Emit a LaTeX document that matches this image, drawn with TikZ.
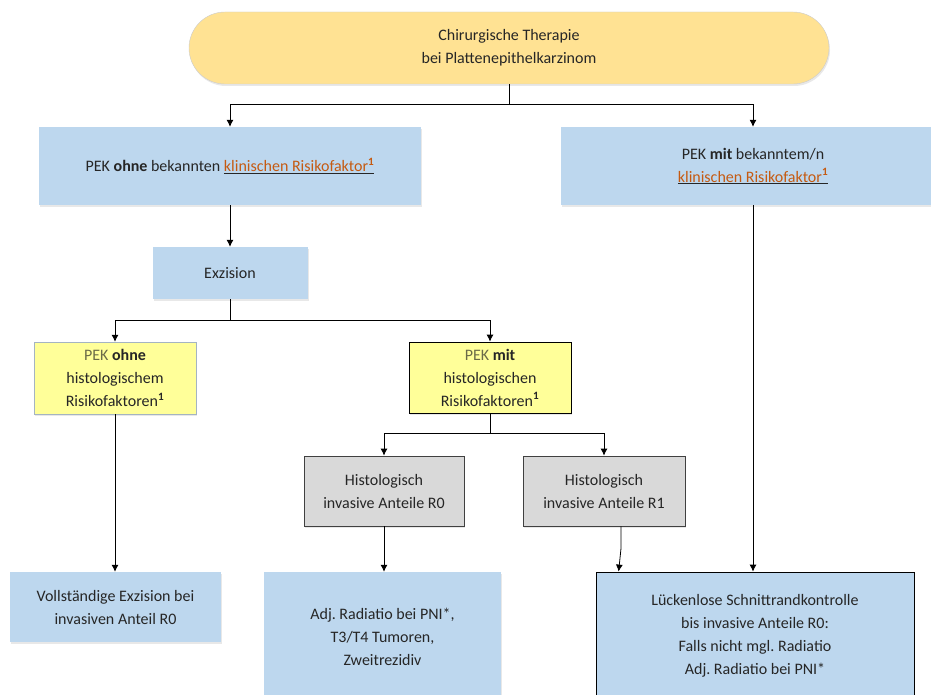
\documentclass[tikz,border=0pt]{standalone}
\usepackage{fontspec}
\setmainfont{Carlito}
\usetikzlibrary{arrows.meta,shapes,positioning,shadows}
\frenchspacing

\definecolor{gold}{HTML}{FFE293}
\definecolor{blau}{HTML}{BDD7EE}
\definecolor{gelb}{HTML}{FFFF99}
\definecolor{grau}{HTML}{D9D9D9}
\definecolor{link}{HTML}{C55A11}
\definecolor{schrift}{HTML}{262626}
\definecolor{pekfarbe}{HTML}{6B6B48}

\newcommand{\risiko}{\underline{\textcolor{link}{klinischen Risikofaktor\textsuperscript{\textbf{1}}}}}

\tikzset{
  kasten/.style={rectangle, inner sep=0pt, align=center, text=schrift,
    font=\fontsize{16}{23}\selectfont,
    drop shadow={shadow xshift=1pt, shadow yshift=-2pt, opacity=0.18}},
  blaukasten/.style={kasten, fill=blau},
  gelbkasten/.style={kasten, fill=gelb},
  graukasten/.style={kasten, fill=grau, draw=black!75, line width=0.8pt},
  pfeil/.style={-{Latex[length=7pt,width=7pt]}, line width=0.8pt}
}

\begin{document}
\begin{tikzpicture}[x=1pt,y=-1pt]
				\useasboundingbox (0,0) rectangle (931,695);
				% oberste Ebene
				\node (therapie) at (509,48) [kasten, fill=gold, draw=black!20, rounded corners=36pt, minimum width=640pt, minimum height=72pt] {Chirurgische Therapie\\bei Plattenepithelkarzinom};
				\node (pekohne) at (230,166) [blaukasten, minimum width=382pt, minimum height=78pt] {PEK \textbf{ohne} bekannten \risiko};
				\node (pekmit) at (753,166) [blaukasten, minimum width=384pt, minimum height=78pt] {PEK \textbf{mit} bekanntem/n\\\risiko};
				\node (exzision) at (230,273) [blaukasten, minimum width=155pt, minimum height=52pt] {Exzision};
				
				% histologische Risikofaktoren
				\node (histohne) at (115,378) [gelbkasten, draw=blau!60!gray, minimum width=162pt, minimum height=72pt] {\textcolor{pekfarbe}{PEK} \textbf{ohne}\\histologischem\\Risikofaktoren\textsuperscript{\textbf{1}}};
				\node (histmit) at (490,377.5) [gelbkasten, draw=black, line width=0.8pt, minimum width=162pt, minimum height=71pt] {\textcolor{pekfarbe}{PEK} \textbf{mit}\\histologischen\\Risikofaktoren\textsuperscript{\textbf{1}}};
				\node (rnull) at (384,491) [graukasten, minimum width=160pt, minimum height=70pt] {Histologisch\\invasive Anteile R0};
				\node (reins) at (604,491) [graukasten, minimum width=162pt, minimum height=70pt] {Histologisch\\invasive Anteile R1};
				
				% Ergebnisse
				\node (vollst) at (115.5,607) [blaukasten, minimum width=211pt, minimum height=70pt] {Vollständige Exzision bei\\invasiven Anteil R0};
				\node (adj) at (382.5,637) [blaukasten, minimum width=237pt, minimum height=130pt] {Adj. Radiatio bei PNI*,\\T3/T4 Tumoren,\\Zweitrezidiv};
				\node (lueck) at (755,636) [blaukasten, draw=black, line width=0.8pt, minimum width=318pt, minimum height=128pt] {Lückenlose Schnittrandkontrolle\\bis invasive Anteile R0:\\Falls nicht mgl. Radiatio\\Adj. Radiatio bei PNI*};
				
				\draw [pfeil] (therapie.south) -- ++(0,20) -| (pekohne.north);
				\draw [pfeil] (therapie.south) -- ++(0,20) -| (pekmit.north);
				\draw [pfeil] (pekohne.south) -- (pekohne.south |- exzision.north);
				\draw [pfeil] (exzision.south) -- ++(0,21) -| (histohne.north);
				\draw [pfeil] (exzision.south) -- ++(0,21) -| (histmit.north);
				\draw [pfeil] (histmit.south) -- ++(0,20) -| (rnull.north);
				\draw [pfeil] (histmit.south) -- ++(0,20) -| (reins.north);
				\draw [pfeil] (histohne.south) -- (histohne.south |- vollst.north);
				\draw [pfeil] (rnull.south) -- (rnull.south |- adj.north);
				\draw [pfeil] ([xshift=17pt]reins.south) -- ++(0,22) -- ([xshift=23pt]lueck.north west);
				\draw [pfeil] (pekmit.south) -- (pekmit.south |- lueck.north);
			\end{tikzpicture}
\end{document}
